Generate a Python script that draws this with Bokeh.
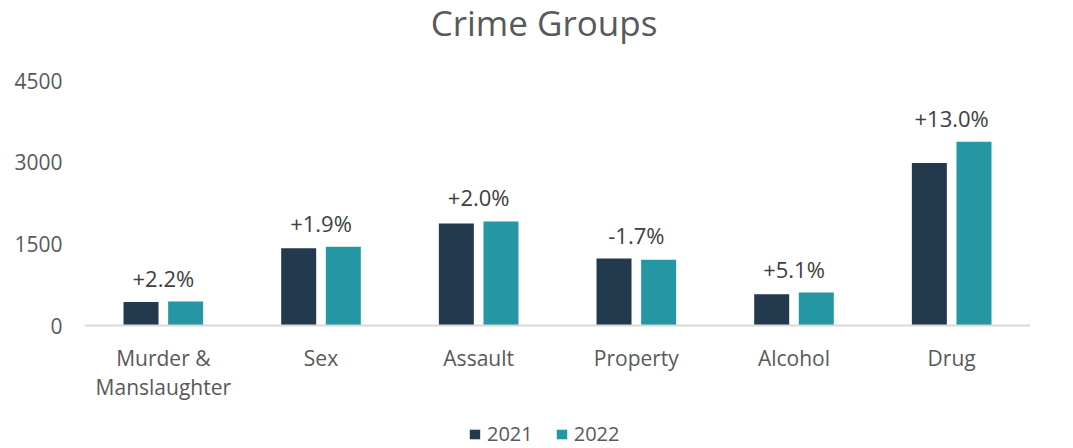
from bokeh.plotting import figure
from bokeh.models import (ColumnDataSource, FactorRange, Range1d, Legend, LegendItem,
                          LabelSet, Label, FixedTicker)
from bokeh.core.properties import value
from bokeh.transform import dodge
from bokeh.embed import file_html
from bokeh.resources import INLINE

categories = ["Murder &\nManslaughter", "Sex", "Assault", "Property", "Alcohol", "Drug"]
values_2021 = [430, 1420, 1875, 1230, 575, 2985]
values_2022 = [440, 1447, 1912, 1209, 604, 3373]
change_labels = ["+2.2%", "+1.9%", "+2.0%", "-1.7%", "+5.1%", "+13.0%"]
y_ticks = [0, 1500, 3000, 4500]
series_names = ["2021", "2022"]
title_text = "Crime Groups"
colors = ["#22394E", "#2596A3"]

FONT = "Open Sans"
W, H = 1073, 448
FRAME_W = 946
ZERO_Y = 325          # pixel row of the value 0
PX_MAX = 245          # pixels from 0 to the top tick
y_max = y_ticks[-1]
y_end = y_max * ZERO_Y / PX_MAX
y_start = -y_max * (H - ZERO_Y) / PX_MAX

src = ColumnDataSource(dict(
    cat=categories,
    v2021=values_2021,
    v2022=values_2022,
    top=[max(a, b) for a, b in zip(values_2021, values_2022)],
    lbl=change_labels,
))

p = figure(frame_width=FRAME_W, frame_height=H,
           x_range=FactorRange(factors=categories, range_padding=0),
           y_range=Range1d(y_start, y_end), output_backend="svg", toolbar_location=None)
p.min_border_left = 84
p.min_border_right = W - 84 - FRAME_W
p.min_border_top = 0
p.min_border_bottom = 0
p.outline_line_color = None
p.background_fill_color = "white"
p.border_fill_color = "white"

r1 = p.vbar(x=dodge("cat", -0.1415, range=p.x_range), top="v2021", bottom=0, width=0.222,
            source=src, fill_color=colors[0], line_color=None)
r2 = p.vbar(x=dodge("cat", 0.1415, range=p.x_range), top="v2022", bottom=0, width=0.222,
            source=src, fill_color=colors[1], line_color=None)

labels = LabelSet(x="cat", y="top", text="lbl", source=src, y_offset=24,
                  text_align="center", text_baseline="middle",
                  text_font_size="22px", text_color="#404040", text_font=value(FONT))
p.add_layout(labels)

title = Label(x=543.5 - 84, y=H - 22, x_units="screen", y_units="screen",
              text=title_text, text_align="center", text_baseline="alphabetic",
              text_font=FONT, text_font_size="35px", text_color="#595959")
p.add_layout(title)

p.xgrid.grid_line_color = None
p.ygrid.grid_line_color = None

p.yaxis.ticker = FixedTicker(ticks=y_ticks)
p.yaxis.axis_line_color = None
p.yaxis.major_tick_line_color = None
p.yaxis.minor_tick_line_color = None
p.yaxis.major_tick_out = 0
p.yaxis.major_label_standoff = 22
p.yaxis.major_label_text_font = FONT
p.yaxis.major_label_text_font_size = "21px"
p.yaxis.major_label_text_color = "#595959"

p.xaxis.fixed_location = 0
p.xaxis.axis_line_color = "#D9D9D9"
p.xaxis.axis_line_width = 2
p.xaxis.major_tick_line_color = None
p.xaxis.major_tick_out = 0
p.xaxis.major_label_standoff = 18
p.xaxis.major_label_text_font = FONT
p.xaxis.major_label_text_font_size = "21px"
p.xaxis.major_label_text_line_height = 1.05
p.xaxis.major_label_text_color = "#595959"

legend = Legend(items=[LegendItem(label=series_names[0], renderers=[r1]),
                       LegendItem(label=series_names[1], renderers=[r2])],
                orientation="horizontal", location=(468 - 84, 1))
legend.glyph_width = 13
legend.glyph_height = 12
legend.label_height = 20
legend.label_text_font = FONT
legend.label_text_font_size = "20px"
legend.label_text_color = "#595959"
legend.label_standoff = 6
legend.spacing = 22
legend.padding = 0
legend.margin = 0
legend.border_line_color = None
legend.background_fill_alpha = 0
p.add_layout(legend, "center")

open("out.html", "w").write(file_html(p, INLINE))
